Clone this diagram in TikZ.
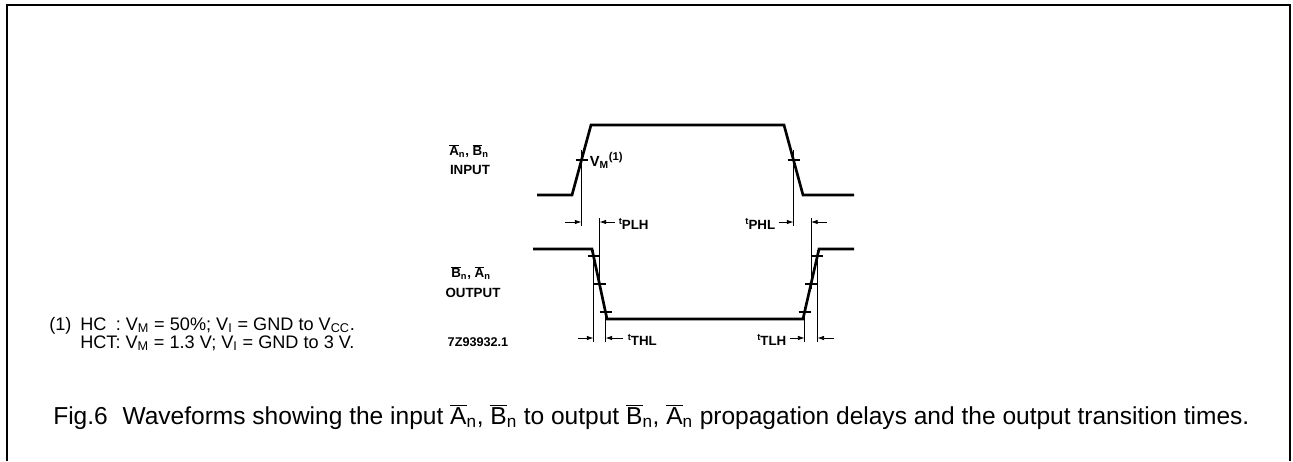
\documentclass[tikz,border=0pt]{standalone}
\usepackage{fontspec}
\setmainfont{Liberation Sans}
\usetikzlibrary{arrows.meta, calc}

\newcommand{\barA}{\ensuremath{\overline{\hbox{A}}}}
\newcommand{\barB}{\ensuremath{\overline{\hbox{B}}}}
\newcommand{\tname}[1]{\raisebox{3.5pt}{\fontsize{7}{7}\selectfont t}#1}

\begin{document}
\begin{tikzpicture}[x=0.75pt,y=-0.75pt,
  wave/.style={line width=2pt, line join=miter},
  guide/.style={line width=0.5pt},
  tickmark/.style={line width=0.9pt},
  dimarrow/.style={-{Latex[length=5pt,width=3.4pt]}, line width=0.6pt},
  scan/.style={font=\fontsize{10}{11}\selectfont\bfseries, inner sep=0pt},
  note/.style={font=\fontsize{13.6}{12}\selectfont, inner sep=0pt}]
\useasboundingbox (0,0) rectangle (1293,461);

% frame, open at the bottom
\draw[line width=1.3pt] (7,461) -- (7,5) -- (1290,5) -- (1290,461);

\pgfmathsetmacro{\inLo}{195}
\pgfmathsetmacro{\inHi}{125}
\pgfmathsetmacro{\outHi}{249}
\pgfmathsetmacro{\outLo}{319}
\coordinate (rowP) at (0,222);
\coordinate (rowT) at (0,338);

% input waveform
\coordinate (i0) at (537,\inLo);
\coordinate (i1) at (572,\inLo);
\coordinate (i2) at (591,\inHi);
\coordinate (i3) at (784,\inHi);
\coordinate (i4) at (803,\inLo);
\coordinate (i5) at (854,\inLo);
\draw[wave] (i0) -- (i1) -- (i2) -- (i3) -- (i4) -- (i5);

% output waveform
\coordinate (o0) at (533,\outHi);
\coordinate (o1) at (592,\outHi);
\coordinate (o2) at (607,\outLo);
\coordinate (o3) at (803,\outLo);
\coordinate (o4) at (819,\outHi);
\coordinate (o5) at (854,\outHi);
\draw[wave] (o0) -- (o1) -- (o2) -- (o3) -- (o4) -- (o5);

% measuring points on the edges
\coordinate (vmr) at ($(i1)!0.5!(i2)$);
\coordinate (vmf) at ($(i3)!0.5!(i4)$);
\coordinate (of1) at ($(o1)!0.1!(o2)$);
\coordinate (of5) at ($(o1)!0.5!(o2)$);
\coordinate (of9) at ($(o1)!0.9!(o2)$);
\coordinate (or9) at ($(o3)!0.1!(o4)$);
\coordinate (or5) at ($(o3)!0.5!(o4)$);
\coordinate (or1) at ($(o3)!0.9!(o4)$);
\foreach \p in {vmr,vmf,of1,of5,of9,or9,or5,or1}
  \draw[tickmark] ($(\p)+(-6,0)$) -- ($(\p)+(6,0)$);

% guide lines down to the arrow rows
\draw[guide] ($(vmr)+(0,-10)$) -- ($(vmr |- rowP)+(0,4)$);
\draw[guide] ($(vmf)+(0,-10)$) -- ($(vmf |- rowP)+(0,4)$);
\draw[guide] ($(of5 |- rowP)+(0,-4)$) -- ($(of5)+(0,5)$);
\draw[guide] ($(or5 |- rowP)+(0,-4)$) -- ($(or5)+(0,5)$);
\draw[guide] ($(of1)+(0,-6)$) -- ($(of1 |- rowT)+(0,4)$);
\draw[guide] ($(of9)+(0,-5)$) -- ($(of9 |- rowT)+(0,4)$);
\draw[guide] ($(or9)+(0,-5)$) -- ($(or9 |- rowT)+(0,4)$);
\draw[guide] ($(or1)+(0,-6)$) -- ($(or1 |- rowT)+(0,4)$);

% delay arrows
\draw[dimarrow] ($(vmr |- rowP)+(-17,0)$) -- (vmr |- rowP);
\draw[dimarrow] ($(of5 |- rowP)+(15,0)$) -- (of5 |- rowP);
\draw[dimarrow] ($(vmf |- rowP)+(-15,0)$) -- (vmf |- rowP);
\draw[dimarrow] ($(or5 |- rowP)+(16,0)$) -- (or5 |- rowP);
% transition arrows
\draw[dimarrow] ($(of1 |- rowT)+(-16,0)$) -- (of1 |- rowT);
\draw[dimarrow] ($(of9 |- rowT)+(17,0)$) -- (of9 |- rowT);
\draw[dimarrow] ($(or9 |- rowT)+(-15,0)$) -- (or9 |- rowT);
\draw[dimarrow] ($(or1 |- rowT)+(17,0)$) -- (or1 |- rowT);

% labels
\node[scan, anchor=west, font=\fontsize{11}{11}\selectfont\bfseries] (vm) at ($(vmr)+(8,0)$) {V\textsubscript{M}\raisebox{4.5pt}{\fontsize{8.5}{8.5}\selectfont(1)}};
\node[scan, anchor=west] (tplh) at ($(of5 |- rowP)+(19,2)$) {\tname{PLH}};
\node[scan, anchor=east] (tphl) at ($(vmf |- rowP)+(-18,2)$) {\tname{PHL}};
\node[scan, anchor=west] (tthl) at ($(of9 |- rowT)+(22,2)$) {\tname{THL}};
\node[scan, anchor=east] (ttlh) at ($(or9 |- rowT)+(-18,2)$) {\tname{TLH}};

\node[scan] (inname) at (469,151) {\barA\textsubscript{n}, \barB\textsubscript{n}};
\node[scan] (inlbl) at (470,170) {INPUT};
\node[scan] (outname) at (471,273) {\barB\textsubscript{n}, \barA\textsubscript{n}};
\node[scan] (outlbl) at (473,293) {OUTPUT};
\node[scan, font=\fontsize{9.5}{10}\selectfont\bfseries] (code) at (478,342) {7Z93932.1};

% footnote
\node[note, anchor=base west] (fnmark) at (49,330) {(1)};
\node[note, anchor=base west] (fnhc) at (80,330)
  {HC\hspace{7pt}: V\textsubscript{M} = 50\%; V\textsubscript{I} = GND to V\textsubscript{CC}.};
\node[note, anchor=base west] (fnhct) at (80,348)
  {HCT: V\textsubscript{M} = 1.3 V; V\textsubscript{I} = GND to 3 V.};

% caption
\node[font=\fontsize{18.4}{20}\selectfont, inner sep=0pt, anchor=base west] (caption) at (53,424)
  {Fig.6\hspace{0.6em}Waveforms showing the input \barA\textsubscript{n}, \barB\textsubscript{n} to output \barB\textsubscript{n}, \barA\textsubscript{n} propagation delays and the output transition times.};
\end{tikzpicture}
\end{document}
